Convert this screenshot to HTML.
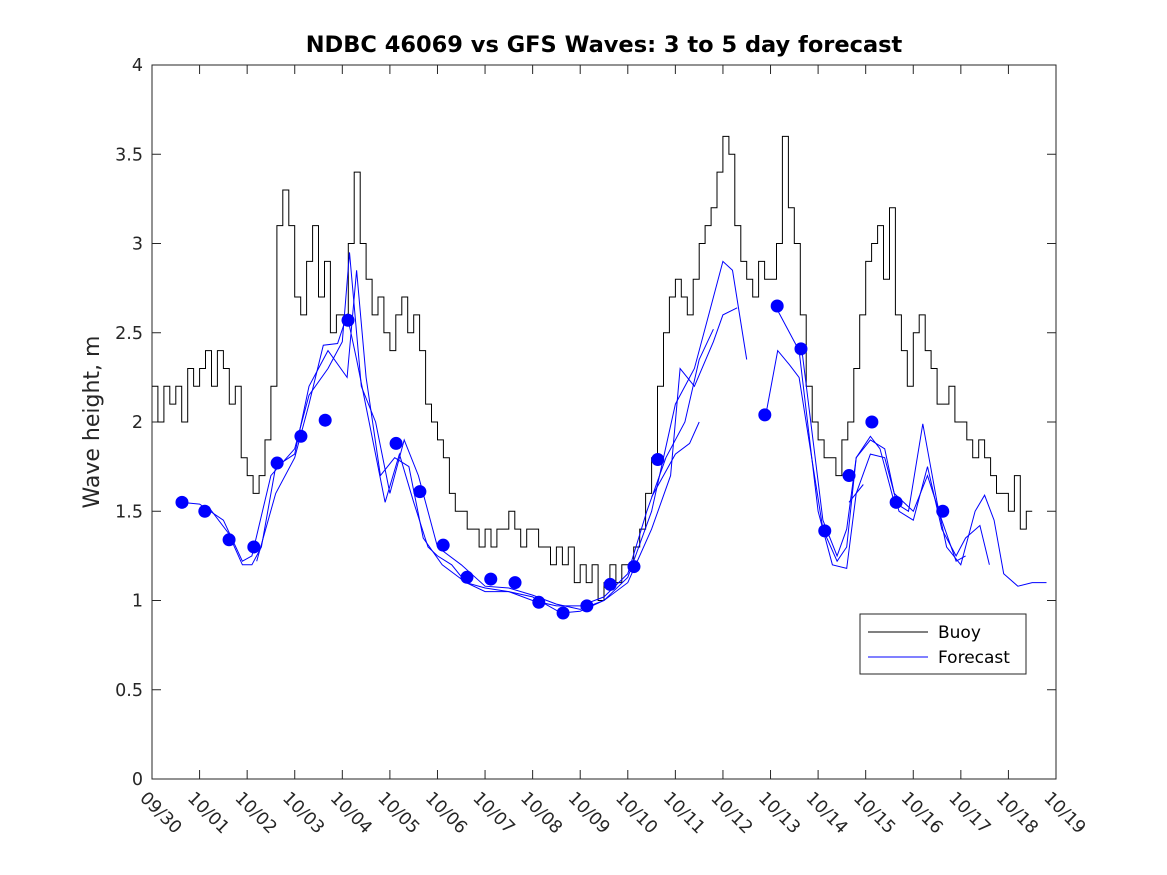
<!DOCTYPE html>
<html><head><meta charset="utf-8"><style>
body{margin:0;background:#fff;}
svg{display:block;font-family:"DejaVu Sans","Liberation Sans",sans-serif;}
</style></head><body>
<svg id="chart" width="1167" height="875" viewBox="0 0 1167 875">
<rect width="1167" height="875" fill="#fff"/>
<text x="604" y="52" text-anchor="middle" font-size="22.5" font-weight="bold" fill="#000">NDBC 46069 vs GFS Waves: 3 to 5 day forecast</text>
<text transform="translate(99,422) rotate(-90)" text-anchor="middle" font-size="22" fill="#262626">Wave height, m</text>
<g id="plot"></g>
<g>
<rect x="860" y="614" width="166" height="60" fill="#fff" stroke="#262626" stroke-width="1"/>
<line x1="868" y1="632" x2="928" y2="632" stroke="#000"/>
<text x="938" y="638" font-size="17" fill="#000">Buoy</text>
<line x1="868" y1="657" x2="928" y2="657" stroke="#00f"/>
<text x="938" y="663" font-size="17" fill="#000">Forecast</text>
</g>
</svg>
<script>
const xTickLabels=["09/30","10/01","10/02","10/03","10/04","10/05","10/06","10/07","10/08","10/09","10/10","10/11","10/12","10/13","10/14","10/15","10/16","10/17","10/18","10/19"];
const yTicks=[0,0.5,1,1.5,2,2.5,3,3.5,4];
const yTickLabels=["0","0.5","1","1.5","2","2.5","3","3.5","4"];
// buoy values every 3 hours starting 09/30 00:00
const buoyValues=[2.2,2.0,2.2,2.1,2.2,2.0,2.3,2.2,
2.3,2.4,2.2,2.4,2.3,2.1,2.2,1.8,
1.7,1.6,1.7,1.9,2.2,3.1,3.3,3.1,
2.7,2.6,2.9,3.1,2.7,2.9,2.5,2.6,
2.6,3.0,3.4,3.0,2.8,2.6,2.7,2.5,
2.4,2.6,2.7,2.5,2.6,2.4,2.1,2.0,
1.9,1.8,1.6,1.5,1.5,1.4,1.4,1.3,
1.4,1.3,1.4,1.4,1.5,1.4,1.3,1.4,
1.4,1.3,1.3,1.2,1.3,1.2,1.3,1.1,
1.2,1.1,1.2,1.0,1.1,1.2,1.1,1.2,
1.2,1.3,1.4,1.6,1.8,2.2,2.5,2.7,
2.8,2.7,2.6,2.8,3.0,3.1,3.2,3.4,
3.6,3.5,3.1,2.9,2.8,2.7,2.9,2.8,
2.8,3.0,3.6,3.2,3.0,2.6,2.2,2.0,
1.9,1.8,1.8,1.7,1.9,2.0,2.3,2.6,
2.9,3.0,3.1,2.8,3.2,2.6,2.4,2.2,
2.5,2.6,2.4,2.3,2.1,2.1,2.2,2.0,
2.0,1.9,1.8,1.9,1.8,1.7,1.6,1.6,
1.5,1.7,1.4,1.5];
const buoyStepDays=0.125;
const dotDays=[0.63,1.11,1.62,2.14,2.63,3.13,3.64,4.12,5.13,5.63,6.12,6.62,7.12,7.63,8.13,8.64,9.14,9.63,10.13,10.63,12.88,13.14,13.64,14.14,14.65,15.13,15.64,16.62];
const dotValues=[1.55,1.5,1.34,1.3,1.77,1.92,2.01,2.57,1.88,1.61,1.31,1.13,1.12,1.1,0.99,0.93,0.97,1.09,1.19,1.79,2.04,2.65,2.41,1.39,1.7,2.0,1.55,1.5];
const run1Days=[0.6,1.0,1.5,1.9,2.1,2.5,3.0,3.3,3.7,4.0,4.15,4.4,4.7,5.0,5.3,5.6,6.0,6.5,7.0,7.5,8.0,8.5,9.0,9.5,10.0,10.5,11.0,11.4,11.7,12.0,12.2,12.5];
const run1Values=[1.55,1.54,1.45,1.22,1.25,1.7,1.85,2.15,2.3,2.45,2.95,2.2,2.0,1.6,1.9,1.7,1.3,1.2,1.08,1.07,1.03,0.98,0.95,1.0,1.13,1.5,2.1,2.3,2.6,2.9,2.85,2.35];
const run2Days=[1.2,1.6,1.9,2.1,2.3,2.6,3.0,3.3,3.7,4.1,4.3,4.5,4.8,5.1,5.4,5.7,6.1,6.6,7.0,7.5,8.0,8.6,9.0,9.5,10.0,10.5,10.9,11.1,11.4,11.8,12.0,12.3];
const run2Values=[1.52,1.38,1.2,1.2,1.3,1.75,1.82,2.2,2.4,2.25,2.85,2.25,1.7,1.8,1.75,1.35,1.2,1.1,1.05,1.05,1.02,0.93,0.94,1.0,1.1,1.4,1.7,2.3,2.2,2.45,2.6,2.64];
const run3Days=[2.2,2.6,3.0,3.3,3.6,3.9,4.1,4.3,4.6,4.9,5.2,5.5,5.8,6.0,6.3,6.6,7.0,7.5,8.0,8.5,9.0,9.5,10.0,10.4,10.8,11.2,11.5,11.8];
const run3Values=[1.22,1.6,1.8,2.1,2.43,2.44,2.6,2.35,1.95,1.55,1.82,1.55,1.3,1.25,1.2,1.1,1.07,1.05,1.0,0.97,0.97,1.02,1.15,1.5,1.8,2.0,2.35,2.52];
const run4Days=[10.5,11.0,11.3,11.5];
const run4Values=[1.58,1.82,1.88,2.0];
const run5Days=[12.9,13.15,13.4,13.6,14.1,14.4,14.6,14.8,15.1,15.3,15.6,15.9,16.2,16.5,16.7,17.0,17.3,17.5,17.7,17.9,18.2,18.5,18.8];
const run5Values=[2.04,2.4,2.32,2.25,1.4,1.22,1.3,1.8,1.92,1.85,1.55,1.5,1.99,1.55,1.3,1.2,1.5,1.59,1.45,1.15,1.08,1.1,1.1];
const run6Days=[13.1,13.6,14.0,14.3,14.6,14.8,15.1,15.4,15.7,16.0,16.3,16.6,16.9,17.1,17.4,17.6];
const run6Values=[2.65,2.4,1.5,1.2,1.18,1.6,1.82,1.8,1.5,1.45,1.75,1.4,1.25,1.35,1.42,1.2];
const run7Days=[13.65,14.1,14.4,14.6,14.8,15.1,15.4,15.6,16.0,16.3,16.6,16.9,17.1];
const run7Values=[2.42,1.45,1.25,1.4,1.8,1.9,1.85,1.6,1.5,1.7,1.45,1.22,1.25];
const run8Days=[14.65,14.95];
const run8Values=[1.55,1.65];

const L=152,R=1056,T=65,B=779;
const xScale=d=>L+d*(R-L)/19;
const yScale=v=>B-v*(B-T)/4;
const NS="http://www.w3.org/2000/svg";
const plot=document.getElementById('plot');
function mk(tag,attrs,parent){const e=document.createElementNS(NS,tag);for(const k in attrs)e.setAttribute(k,attrs[k]);(parent||plot).appendChild(e);return e;}

const frame=mk('rect',{x:L,y:T,width:R-L,height:B-T,fill:'#fff',stroke:'#262626','stroke-width':1});



xTickLabels.forEach((lab,i)=>{
  const x=xScale(i);
  const t1=mk('line',{x1:x,y1:B,x2:x,y2:B-9,stroke:'#262626'});
  
  
  const t2=mk('line',{x1:x,y1:T,x2:x,y2:T+9,stroke:'#262626'});
  
  
  const tx=mk('text',{transform:`translate(${x-13},${B+20}) rotate(45)`,'font-size':17.5,fill:'#262626'});
  tx.textContent=lab;
  
  
});
yTicks.forEach((v,i)=>{
  const y=yScale(v);
  const t1=mk('line',{x1:L,y1:y,x2:L+9,y2:y,stroke:'#262626'});
  
  
  const t2=mk('line',{x1:R,y1:y,x2:R-9,y2:y,stroke:'#262626'});
  
  
  const tx=mk('text',{x:L-9,y:y+6,'text-anchor':'end','font-size':17.5,fill:'#262626'});
  tx.textContent=yTickLabels[i];
  
  
});

let d='';
buoyValues.forEach((v,i)=>{
  const x0=xScale(i*buoyStepDays),x1=xScale((i+1)*buoyStepDays),y=yScale(v);
  d+=(i===0?'M':'L')+x0.toFixed(1)+','+y.toFixed(1)+'L'+x1.toFixed(1)+','+y.toFixed(1);
});
const buoy=mk('path',{d:d,fill:'none',stroke:'#000','stroke-width':1});



const runs=[[run1Days,run1Values],[run2Days,run2Values],[run3Days,run3Values],[run4Days,run4Values],[run5Days,run5Values],[run6Days,run6Values],[run7Days,run7Values],[run8Days,run8Values]];
runs.forEach(([ds,vs])=>{
  const p=mk('polyline',{points:ds.map((dd,i)=>xScale(dd).toFixed(1)+','+yScale(vs[i]).toFixed(1)).join(' '),fill:'none',stroke:'#00f','stroke-width':1});
  
  
});
dotDays.forEach((dd,i)=>{
  const c=mk('circle',{cx:xScale(dd),cy:yScale(dotValues[i]),r:6.5,fill:'#00f'});
  
  
});
</script>
</body></html>
